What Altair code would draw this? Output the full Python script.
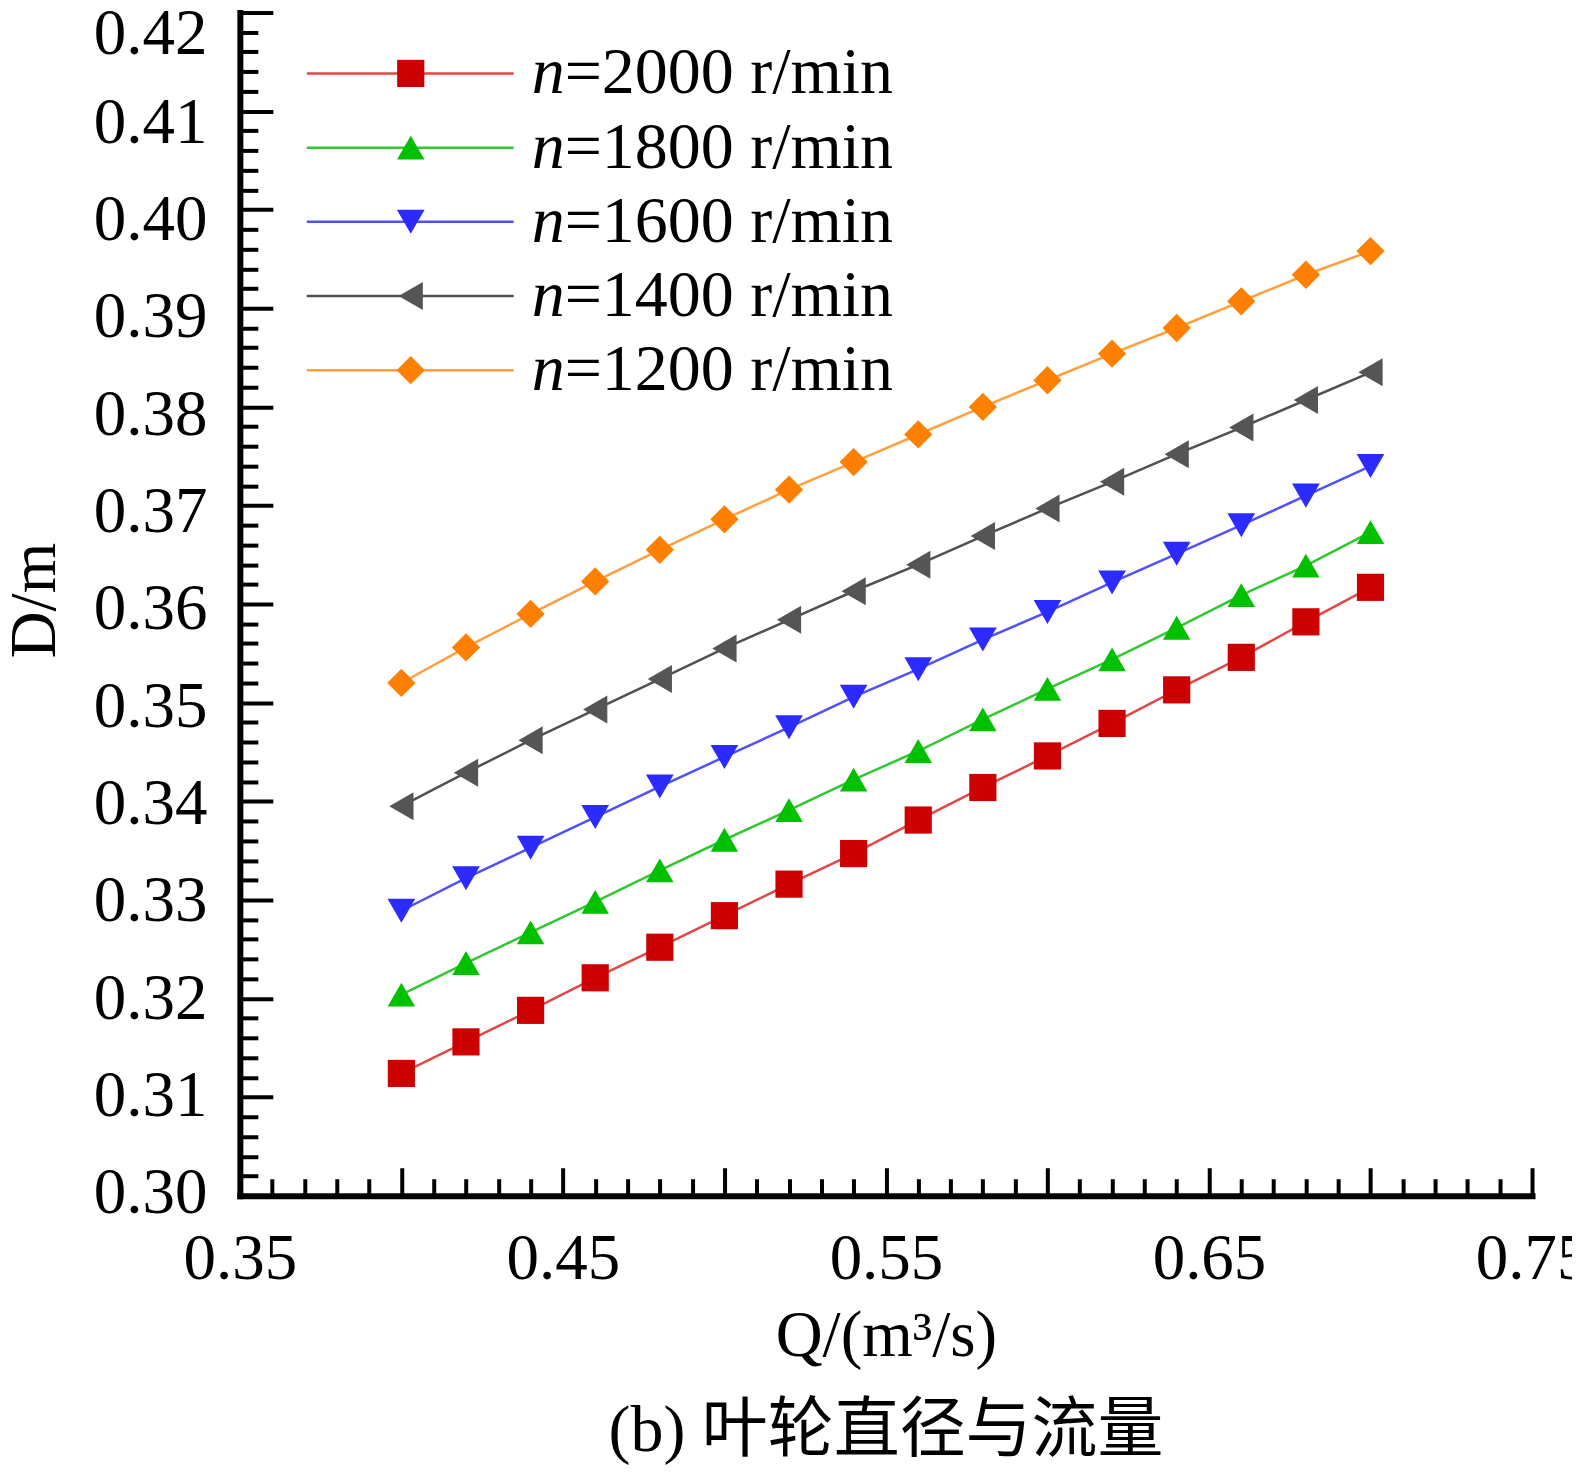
import altair as alt
import pandas as pd

# ---------------- data ----------------
series_names = ["n=2000 r/min", "n=1800 r/min", "n=1600 r/min", "n=1400 r/min", "n=1200 r/min"]
legend_rest = ["=2000 r/min", "=1800 r/min", "=1600 r/min", "=1400 r/min", "=1200 r/min"]

Q = [0.40, 0.42, 0.44, 0.46, 0.48, 0.50, 0.52, 0.54,
     0.56, 0.58, 0.60, 0.62, 0.64, 0.66, 0.68, 0.70]

D_2000 = [0.3124, 0.3156, 0.3188, 0.3221, 0.3252, 0.3284, 0.3316, 0.3347,
          0.3381, 0.3414, 0.3446, 0.3479, 0.3513, 0.3546, 0.3582, 0.3617]
D_1800 = [0.3204, 0.3236, 0.3267, 0.3298, 0.3330, 0.3361, 0.3391, 0.3422,
          0.3451, 0.3483, 0.3514, 0.3544, 0.3576, 0.3609, 0.3639, 0.3673]
D_1600 = [0.3289, 0.3322, 0.3353, 0.3384, 0.3415, 0.3445, 0.3475, 0.3506,
          0.3534, 0.3564, 0.3592, 0.3622, 0.3651, 0.3680, 0.3710, 0.3740]
D_1400 = [0.3395, 0.3429, 0.3462, 0.3493, 0.3524, 0.3555, 0.3584, 0.3613,
          0.3640, 0.3669, 0.3697, 0.3724, 0.3752, 0.3779, 0.3807, 0.3835]
D_1200 = [0.3520, 0.3556, 0.3590, 0.3623, 0.3655, 0.3686, 0.3716, 0.3744,
          0.3772, 0.3800, 0.3827, 0.3854, 0.3880, 0.3907, 0.3934, 0.3958]

x_tick_values = [round(0.35 + 0.01 * i, 2) for i in range(41)]
y_tick_values = [round(0.300 + 0.002 * i, 3) for i in range(61)]

# ---------------- styles ----------------
SERIF = "Liberation Serif"
CAPTION_FONT = "Liberation Serif, Noto Sans CJK SC"
marker_colors = ["#cc0000", "#00c000", "#2b2bff", "#555555", "#ff8000"]
line_colors = ["#e04848", "#30c830", "#5050ff", "#505050", "#ffa040"]
shapes = ["square", "triangle-up", "triangle-down", "triangle-left", "diamond"]
sizes = [740, 800, 800, 800, 1200]

all_D = [D_2000, D_1800, D_1600, D_1400, D_1200]
df = pd.DataFrame({
    "Q": Q * len(series_names),
    "D": [v for s in all_D for v in s],
    "series": [name for name in series_names for _ in Q],
})
df_leg = pd.DataFrame({"series": series_names, "n": ["n"] * 5, "rest": legend_rest})

x_scale = alt.Scale(domain=[0.35, 0.75], nice=False, zero=False)
y_scale = alt.Scale(domain=[0.30, 0.42], nice=False, zero=False)

x_axis = alt.Axis(
    values=x_tick_values,
    labelExpr="(round(datum.value*100) % 10 == 5) ? format(datum.value, '.2f') : ''",
    tickSize=alt.ExprRef(expr="(round(datum.value*100) % 5 == 0) ? -28 : -17"),
    tickWidth=4, tickColor="black",
    domainWidth=6, domainColor="black", domainCap="square",
    labelFont=SERIF, labelFontSize=65, labelColor="black",
    labelPadding=60, labelOverlap=False, labelFlush=False, labelBound=False,
    grid=False,
    title="Q/(m³/s)", titleFont=SERIF, titleFontSize=65, titleFontWeight="normal",
    titleColor="black", titleBaseline="middle", titleY=140,
)
y_axis = alt.Axis(
    values=y_tick_values,
    labelExpr="(round(datum.value*1000) % 10 == 0) ? format(datum.value, '.2f') : ''",
    tickSize=alt.ExprRef(expr="(round(datum.value*1000) % 10 == 0) ? -33 : -18"),
    tickWidth=4, tickColor="black",
    domainWidth=6, domainColor="black", domainCap="square",
    labelFont=SERIF, labelFontSize=65, labelColor="black",
    labelPadding=66, labelOverlap=False, labelFlush=False, labelBound=False,
    labelOffset=alt.ExprRef(
        expr="datum.value > 0.419 ? 21 : -3 + (datum.value - 0.30) * 130"),
    grid=False,
    title="D/m", titleFont=SERIF, titleFontSize=65, titleFontWeight="normal",
    titleColor="black", titleBaseline="middle", titleAngle=-90,
    titleX=-205, titleY=588,
)

stroke_scale = alt.Scale(domain=series_names, range=line_colors)
fill_scale = alt.Scale(domain=series_names, range=marker_colors)
shape_scale = alt.Scale(domain=series_names, range=shapes)
size_scale = alt.Scale(domain=series_names, range=sizes)

lines = alt.Chart(df).mark_line(strokeWidth=2.5).encode(
    x=alt.X("Q:Q", scale=x_scale, axis=x_axis),
    y=alt.Y("D:Q", scale=y_scale, axis=y_axis),
    stroke=alt.Stroke("series:N", scale=stroke_scale, legend=None),
    detail="series:N",
)
points = alt.Chart(df).mark_point(filled=True, opacity=1, strokeWidth=0).encode(
    x=alt.X("Q:Q", scale=x_scale, axis=x_axis),
    y=alt.Y("D:Q", scale=y_scale, axis=y_axis),
    fill=alt.Fill("series:N", scale=fill_scale, legend=None),
    shape=alt.Shape("series:N", scale=shape_scale, legend=None),
    size=alt.Size("series:O", scale=size_scale, legend=None),
)

# ---------------- custom legend ----------------
leg_y = alt.Y("series:N", scale=alt.Scale(type="point", domain=series_names,
                                          range=[61, 358], padding=0), axis=None)
leg_rule = alt.Chart(df_leg).mark_rule(strokeWidth=2.5).encode(
    x=alt.value(67), x2=alt.value(274), y=leg_y,
    stroke=alt.Stroke("series:N", scale=stroke_scale, legend=None),
)
leg_pts = alt.Chart(df_leg).mark_point(filled=True, opacity=1, strokeWidth=0).encode(
    x=alt.value(171), y=leg_y,
    fill=alt.Fill("series:N", scale=fill_scale, legend=None),
    shape=alt.Shape("series:N", scale=shape_scale, legend=None),
    size=alt.Size("series:O", scale=size_scale, legend=None),
)
leg_n = alt.Chart(df_leg).mark_text(font=SERIF, fontStyle="italic", fontSize=66,
                                     align="left", baseline="middle", color="black").encode(
    x=alt.value(292), y=leg_y, text="n:N")
leg_rest = alt.Chart(df_leg).mark_text(font=SERIF, fontSize=66,
                                        align="left", baseline="middle", color="black").encode(
    x=alt.value(325), y=leg_y, text="rest:N")

main = alt.layer(lines, points)
legend = alt.layer(leg_rule, leg_pts, leg_n, leg_rest)

chart = alt.layer(main, legend).resolve_scale(y="independent").properties(
    width=1293,
    height=1184,
    padding={"left": 232, "top": 4, "right": 40, "bottom": 279},
    autosize=alt.AutoSizeParams(type="none"),
    title=alt.TitleParams(
        text="(b) 叶轮直径与流量", orient="bottom", anchor="middle", offset=30,
        font=CAPTION_FONT, fontSize=66, fontWeight="normal", color="black",
    ),
).configure_view(stroke=None)

chart.save("out.html", embed_options={"renderer": "svg", "actions": False})
